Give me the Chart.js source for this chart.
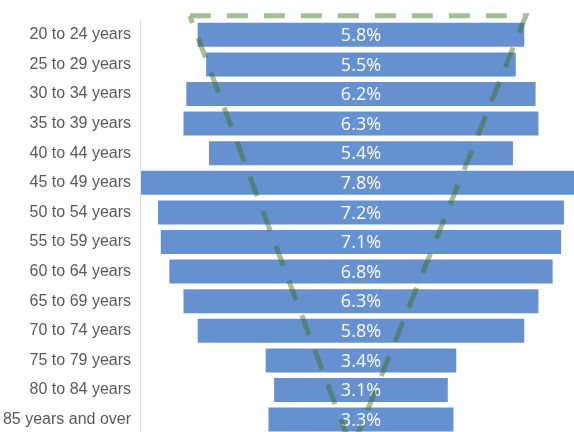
<!DOCTYPE html>
<html>
<head>
<meta charset="utf-8">
<script src="https://cdn.jsdelivr.net/npm/chart.js@4"></script>
<style>
  html, body { margin: 0; padding: 0; background: #fff; overflow: hidden; }
  #wrap { width: 574px; height: 453px; }
</style>
</head>
<body>
<div id="wrap"><canvas id="funnelChart" width="574" height="453"></canvas></div>
<script>
// Datos
const categories = [
  '20 to 24 years', '25 to 29 years', '30 to 34 years', '35 to 39 years',
  '40 to 44 years', '45 to 49 years', '50 to 54 years', '55 to 59 years',
  '60 to 64 years', '65 to 69 years', '70 to 74 years', '75 to 79 years',
  '80 to 84 years', '85 years and over'
];
const shares = [5.8, 5.5, 6.2, 6.3, 5.4, 7.8, 7.2, 7.1, 6.8, 6.3, 5.8, 3.4, 3.1, 3.3];

// Contorno del embudo (x en %, y en índice de fila)
const funnelX = [-3.02, 2.91, -0.16, -3.02];
const funnelY = [-0.64, -0.64, 14.0, -0.64];

// Barras centradas en cero
const barData = shares.map(v => [-v / 2, v / 2]);

// Etiquetas de valor y contorno discontinuo
const overlay = {
  id: 'overlay',
  afterDatasetsDraw(chart) {
    const ctx = chart.ctx;
    const xs = chart.scales.x;
    const ys = chart.scales.y;
    const meta = chart.getDatasetMeta(0);

    ctx.save();
    ctx.fillStyle = '#ffffff';
    ctx.font = '18px "Open Sans", sans-serif';
    ctx.textAlign = 'center';
    ctx.textBaseline = 'middle';
    meta.data.forEach((bar, i) => {
      const cx = (bar.x + bar.base) / 2;
      ctx.fillText(shares[i].toFixed(1) + '%', cx, bar.y + 1);
    });

    ctx.strokeStyle = 'rgba(60,110,20,0.45)';
    ctx.lineWidth = 5;
    ctx.setLineDash([21, 16]);
    ctx.beginPath();
    funnelX.forEach((v, i) => {
      const px = xs.getPixelForValue(v);
      const py = ys.getPixelForValue(funnelY[i]);
      if (i === 0) ctx.moveTo(px, py); else ctx.lineTo(px, py);
    });
    ctx.stroke();
    ctx.restore();
  }
};

const config = {
  type: 'bar',
  data: {
    labels: categories,
    datasets: [{
      data: barData,
      backgroundColor: '#6591d1',
      borderColor: 'rgba(255,255,255,0.35)',
      borderWidth: 1,
      borderSkipped: false,
      barPercentage: 0.88,
      categoryPercentage: 1.0
    }]
  },
  options: {
    indexAxis: 'y',
    responsive: false,
    animation: false,
    layout: { padding: { top: 20, bottom: 5, left: 0, right: 0 } },
    plugins: {
      legend: { display: false },
      title: { display: false },
      tooltip: { enabled: false }
    },
    scales: {
      x: {
        type: 'linear',
        display: false,
        min: -3.9,
        max: 3.76
      },
      y: {
        type: 'category',
        grid: { display: false, drawTicks: false },
        border: { display: true, color: '#d9d9d9', width: 1 },
        ticks: {
          color: '#595959',
          font: { family: '"Liberation Sans", Arial, sans-serif', size: 16 },
          padding: 9
        },
        afterFit(scale) { scale.width = 140; }
      }
    }
  },
  plugins: [overlay]
};

// Crear la gráfica
const funnelChart = new Chart(document.getElementById('funnelChart'), config);
</script>
</body>
</html>
